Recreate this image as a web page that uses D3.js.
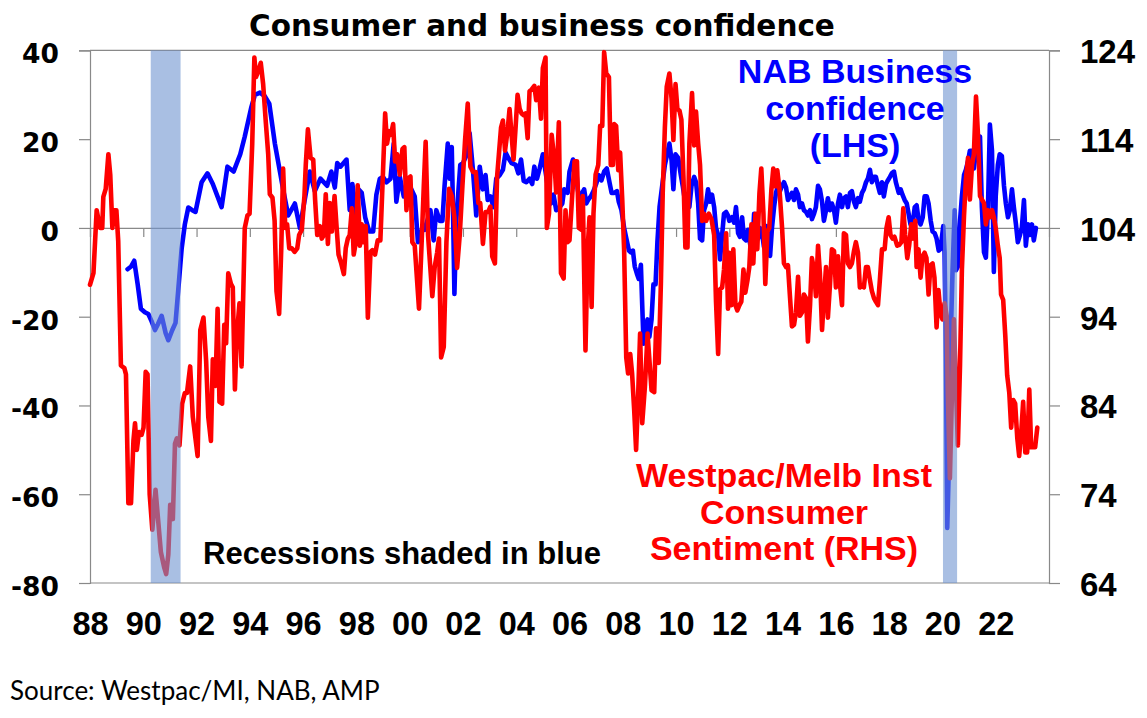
<!DOCTYPE html>
<html>
<head>
<meta charset="utf-8">
<script src="https://cdn.jsdelivr.net/npm/d3@7"></script>
<style>
  html, body { margin: 0; padding: 0; background: #ffffff; }
  svg { display: block; }
</style>
</head>
<body>
<svg id="chart" width="1147" height="718"></svg>
<script>
// ---------------- DATA ----------------
const titleText = "Consumer and business confidence";
const sourceText = "Source: Westpac/MI, NAB, AMP";

const xTickYears = [1988,1990,1992,1994,1996,1998,2000,2002,2004,2006,2008,2010,2012,2014,2016,2018,2020,2022];
const xTickLabels = ["88","90","92","94","96","98","00","02","04","06","08","10","12","14","16","18","20","22"];
const leftTicks = [40, 20, 0, -20, -40, -60, -80];
const rightTicks = [124, 114, 104, 94, 84, 74, 64];

const recessionStart = [1990.28, 2020.02];
const recessionEnd   = [1991.40, 2020.55];

// Westpac/Melbourne Institute consumer sentiment index (RHS)
const sentimentDates = [
1988.00,1988.13,1988.25,1988.38,1988.46,1988.50,1988.59,1988.69,1988.76,1988.84,1988.91,1988.99,
1989.06,1989.16,1989.29,1989.35,1989.44,1989.54,1989.63,1989.69,1989.76,1989.84,1989.94,
1990.01,1990.09,1990.16,1990.24,1990.34,1990.46,1990.56,1990.66,1990.79,1990.86,1990.94,
1991.01,1991.11,1991.19,1991.26,1991.36,1991.46,1991.56,1991.64,1991.76,1991.86,
1992.04,1992.14,1992.26,1992.36,1992.44,1992.54,1992.61,1992.71,1992.79,1992.86,1992.96,
1993.04,1993.11,1993.19,1993.29,1993.36,1993.44,1993.51,1993.61,1993.69,1993.81,1993.91,1993.99,
1994.09,1994.17,1994.23,1994.31,1994.41,1994.50,1994.60,1994.69,1994.75,1994.85,1994.93,
1995.00,1995.10,1995.18,1995.25,1995.33,1995.40,1995.48,1995.58,1995.68,1995.78,1995.85,1995.95,
1996.05,1996.10,1996.18,1996.28,1996.38,1996.45,1996.53,1996.63,1996.70,1996.78,1996.85,1996.93,
1997.00,1997.08,1997.18,1997.25,1997.33,1997.43,1997.53,1997.60,1997.68,1997.75,1997.83,1997.90,1997.98,
1998.05,1998.13,1998.20,1998.28,1998.35,1998.43,1998.53,1998.60,1998.70,1998.80,1998.90,
1999.00,1999.08,1999.15,1999.23,1999.30,1999.38,1999.45,1999.53,1999.63,1999.73,1999.80,1999.88,1999.95,
2000.03,2000.10,2000.19,2000.35,2000.44,2000.53,2000.60,2000.69,2000.78,2000.85,2000.94,
2001.03,2001.10,2001.18,2001.28,2001.38,2001.48,2001.58,2001.68,2001.78,2001.88,2001.98,
2002.08,2002.18,2002.28,2002.38,2002.48,2002.58,2002.65,2002.75,2002.85,2002.95,
2003.03,2003.10,2003.20,2003.28,2003.35,2003.43,2003.50,2003.58,2003.68,2003.75,2003.83,2003.90,2003.98,
2004.05,2004.13,2004.20,2004.28,2004.35,2004.43,2004.50,2004.58,2004.68,2004.75,2004.85,2004.93,
2005.00,2005.10,2005.15,2005.23,2005.33,2005.43,2005.50,2005.60,2005.68,2005.78,2005.85,2005.93,
2006.00,2006.10,2006.19,2006.28,2006.35,2006.44,2006.50,2006.60,2006.68,2006.75,2006.83,2006.90,2006.98,
2007.08,2007.15,2007.23,2007.30,2007.38,2007.48,2007.55,2007.63,2007.68,2007.75,2007.83,2007.90,2007.98,
2008.05,2008.13,2008.20,2008.28,2008.35,2008.43,2008.50,2008.58,2008.65,2008.73,2008.83,2008.93,
2009.00,2009.08,2009.18,2009.25,2009.35,2009.43,2009.50,2009.58,2009.65,2009.75,2009.83,2009.90,2009.98,
2010.05,2010.13,2010.20,2010.28,2010.35,2010.43,2010.50,2010.60,2010.68,2010.75,2010.83,2010.90,2010.98,
2011.05,2011.13,2011.23,2011.33,2011.43,2011.50,2011.58,2011.65,2011.73,2011.80,2011.88,2011.95,
2012.00,2012.08,2012.15,2012.23,2012.30,2012.38,2012.45,2012.53,2012.60,2012.68,2012.75,2012.83,2012.90,2012.98,
2013.05,2013.13,2013.20,2013.28,2013.35,2013.43,2013.50,2013.58,2013.65,2013.73,2013.80,2013.88,2013.98,
2014.05,2014.13,2014.20,2014.28,2014.35,2014.43,2014.50,2014.58,2014.65,2014.73,2014.80,2014.88,2014.95,
2015.03,2015.10,2015.18,2015.25,2015.33,2015.40,2015.48,2015.55,2015.63,2015.70,2015.78,2015.85,2015.93,
2016.00,2016.08,2016.15,2016.23,2016.30,2016.38,2016.45,2016.53,2016.60,2016.68,2016.75,2016.83,2016.90,2016.98,
2017.05,2017.13,2017.20,2017.28,2017.35,2017.43,2017.50,2017.58,2017.65,2017.73,2017.83,2017.90,2017.98,
2018.05,2018.13,2018.20,2018.30,2018.38,2018.46,2018.53,2018.60,2018.68,2018.75,2018.83,2018.90,2018.98,
2019.03,2019.10,2019.18,2019.25,2019.33,2019.40,2019.48,2019.55,2019.63,2019.70,2019.78,2019.85,2019.93,
2020.00,2020.08,2020.16,2020.20,2020.28,2020.36,2020.43,2020.51,2020.58,2020.66,2020.73,2020.81,2020.88,2020.96,
2021.03,2021.11,2021.18,2021.26,2021.33,2021.41,2021.48,2021.56,2021.63,2021.71,2021.78,2021.86,2021.93,
2022.00,2022.08,2022.15,2022.20,2022.28,2022.36,2022.43,2022.51,2022.58,2022.66,2022.73,2022.81,2022.88,2022.96,
2023.03,2023.11,2023.18,2023.26,2023.33,2023.41,2023.48,2023.56
];
const sentimentValues = [
97.6,98.9,106,104,104,107.5,108.4,112.3,110,104,106,106,
102.5,88.5,88.2,87.5,73,73,80,82,79,81,80.7,
81.5,87.8,87.5,74,70,74.5,71,67.5,65.7,65,67.2,
72.8,71.2,79.7,80.3,79.5,84.2,85.4,85.4,88.4,82.7,
78.3,92.5,93.9,89,82.7,80,89.2,86.2,94.9,84.4,84.2,
93.1,91,98.9,97.7,97.3,85.8,91.8,95.5,88.4,104,105.4,105.6,
113.5,123.2,121,121.6,122.6,120.2,115.9,112.3,107.8,107.4,104.8,
96.9,94.3,101.7,110.7,104,104.4,101.7,101.7,101.3,101.7,103.2,103.8,
107.6,111.1,115.1,111.9,111.7,107.2,103.2,104.2,102.8,103.2,107.8,102.2,
106.8,103.6,107.6,104.4,101,100,98.8,101.7,102.8,103.2,106.2,101,102.4,
108.8,102,104.4,102.4,104.2,93.9,101.3,101.5,101,102.6,102.6,
110.4,116.9,113.5,114.9,114.5,115.7,111.5,112.3,110,112.9,113.1,106,109.6,
109.8,102.4,102,94.9,101.6,108.7,113.7,103.2,99.3,96.3,99.6,
101.2,102.8,89.4,90.6,102.4,108.4,107.6,105.2,99.5,103.2,108.7,
113.9,118,110.9,110.3,110.3,106.8,106.8,102.2,105.8,105.8,
106.4,100.8,100,109.7,112.3,115.3,116.1,112.7,115.1,117.4,114.3,111.7,115.5,
119,117.4,116.9,116.7,116.9,114.1,119.4,119.6,120,118.4,119.8,116.3,
122,123.2,104,105.6,114.5,111.7,108,115.9,98.9,98.3,106,102.4,
102.6,107.6,111.5,111.5,104,103.8,107.6,90.2,101.6,105.2,95.1,105.6,110,
111.1,115.5,115.5,123.8,121.4,121,111.1,111.1,115.7,115.5,110.5,112.5,107.2,
101.6,89.4,87.6,89.8,87.6,83.4,79,85.4,92.1,82,86.1,92.1,
89.1,85.7,85.5,92.7,88.8,97.7,108,115.3,119.9,121.4,118.6,113.9,120.2,
117.4,117.2,116.2,109.5,101.8,101.8,113.5,119.2,113.3,117.1,113.5,111.1,104.8,
105.6,104.8,105.6,105,103.2,95.7,89.8,97.1,97.3,99.3,103.4,94.9,
101.2,95.3,101.6,95.3,94.7,95.3,95.7,99.3,96.7,98.1,99.6,104.4,100,105.6,
101.6,107.9,110.7,105.6,97.7,103.6,104,108.4,110.7,108.7,110.5,108.4,104,
100,99.6,99.8,96.1,92.9,93.1,94.5,98.5,94.1,94.5,96.5,96.1,91.2,
95.3,100.6,99.3,96.3,102,98.9,92.5,96.1,99.6,93.9,97.7,101.6,101.4,
97.3,100.8,97.7,95.3,103.4,103.2,100,99.6,100,101.4,102.4,101.2,97.3,97.5,
97.3,99.6,99.6,98.1,96.9,96.1,95.7,95.3,98.1,101.6,101.6,104,105.2,
103.2,102.8,103,102,102.1,102.4,106.2,103.2,100.6,102,104.4,102.8,104.8,
99.6,101.6,98.4,100.8,101.2,100.6,96.5,99.8,100,98.4,92.8,97,94.3,
93.7,95.5,94.1,85.8,75.8,85.8,93.7,85.8,79.5,88.6,99.3,105.4,109.5,111.9,
107.2,111.1,112.3,118.8,114.7,107.6,107.2,106.8,104.4,106,105.2,106,105.2,
104,102,100.6,96.5,95.9,91.8,87.4,85.4,81.5,84.6,84.2,80.3,78.3,81.1,
84.4,78.7,78.7,85.8,79.3,79.3,79.3,81.5
];

// NAB business confidence (LHS)
const nabDates = [
1989.41,1989.54,1989.66,1989.79,1989.91,1990.06,1990.19,1990.31,1990.44,1990.54,1990.69,1990.84,1990.94,
1991.09,1991.21,1991.31,1991.44,1991.56,1991.69,1991.84,1991.96,1992.19,1992.41,1992.61,1992.94,
1993.16,1993.39,1993.64,1993.81,1994.06,1994.19,1994.38,1994.56,1994.73,1994.94,
1995.13,1995.25,1995.44,1995.69,1995.88,1996.06,1996.25,1996.44,1996.65,1996.90,
1997.06,1997.19,1997.28,1997.40,1997.63,1997.75,1997.85,1997.98,
1998.08,1998.20,1998.33,1998.48,1998.63,1998.75,1998.88,
1999.00,1999.13,1999.28,1999.40,1999.50,1999.63,1999.78,1999.88,
2000.00,2000.19,2000.31,2000.48,2000.56,2000.78,2000.90,
2001.00,2001.13,2001.23,2001.31,2001.43,2001.50,2001.58,2001.63,2001.68,2001.75,2001.90,
2002.00,2002.15,2002.25,2002.38,2002.50,2002.63,2002.75,2002.85,2002.93,
2003.03,2003.15,2003.25,2003.38,2003.50,2003.60,2003.70,2003.83,2003.98,
2004.08,2004.18,2004.28,2004.38,2004.50,2004.60,2004.68,2004.78,2004.88,
2005.00,2005.10,2005.20,2005.30,2005.40,2005.50,2005.63,2005.73,2005.80,2005.93,
2006.00,2006.13,2006.23,2006.31,2006.40,2006.48,2006.55,2006.63,2006.70,2006.80,2006.90,
2007.00,2007.10,2007.20,2007.30,2007.40,2007.50,2007.58,2007.68,2007.78,2007.85,2007.95,
2008.05,2008.15,2008.23,2008.30,2008.38,2008.45,2008.53,2008.60,2008.68,2008.73,2008.78,2008.85,2008.93,
2009.00,2009.08,2009.15,2009.23,2009.30,2009.38,2009.48,2009.58,2009.68,2009.75,2009.83,2009.90,2009.98,
2010.08,2010.18,2010.25,2010.33,2010.40,2010.50,2010.58,2010.68,2010.75,2010.83,2010.90,2010.98,
2011.05,2011.13,2011.20,2011.28,2011.35,2011.43,2011.50,2011.58,2011.65,2011.73,2011.80,2011.88,2011.95,
2012.00,2012.10,2012.18,2012.25,2012.33,2012.40,2012.48,2012.55,2012.63,2012.70,2012.78,2012.85,2012.93,
2013.00,2013.08,2013.15,2013.23,2013.30,2013.38,2013.45,2013.53,2013.60,2013.68,2013.75,2013.83,2013.90,2013.98,
2014.05,2014.13,2014.20,2014.28,2014.35,2014.43,2014.50,2014.58,2014.65,2014.73,2014.80,2014.88,2014.95,
2015.03,2015.10,2015.18,2015.25,2015.33,2015.40,2015.48,2015.55,2015.63,2015.70,2015.78,2015.85,2015.93,
2016.00,2016.08,2016.15,2016.23,2016.30,2016.38,2016.45,2016.53,2016.60,2016.68,2016.75,2016.83,2016.90,2016.98,
2017.05,2017.13,2017.20,2017.28,2017.35,2017.43,2017.50,2017.58,2017.65,2017.73,2017.80,2017.88,2017.95,
2018.03,2018.10,2018.18,2018.25,2018.36,2018.43,2018.50,2018.58,2018.66,2018.73,2018.80,2018.88,2018.96,
2019.03,2019.11,2019.18,2019.26,2019.33,2019.41,2019.48,2019.56,2019.63,2019.71,2019.78,2019.86,2019.93,
2020.03,2020.08,2020.13,2020.18,2020.23,2020.30,2020.38,2020.46,2020.51,2020.58,2020.66,2020.73,2020.81,2020.88,2020.96,
2021.03,2021.11,2021.18,2021.26,2021.33,2021.41,2021.48,2021.56,2021.63,2021.71,2021.78,2021.86,2021.93,
2022.00,2022.08,2022.15,2022.23,2022.31,2022.38,2022.46,2022.53,2022.61,2022.68,2022.76,2022.83,2022.91,2022.98,
2023.06,2023.13,2023.21,2023.28,2023.36,2023.43,2023.51
];
const nabValues = [
-9.3,-8.7,-7.4,-12.7,-18.2,-19,-19.4,-21,-23,-21.8,-19.8,-23.7,-25.3,
-23,-21.4,-14.2,-4.7,0.8,4.6,4,3.6,10.3,12.3,9.9,4.7,
13.8,12.7,16.6,20.6,27.3,30,30.5,29.7,28,19,
12.7,8.7,2.8,5.5,0,6.3,12.7,8.3,11.1,9.5,
12.7,9.1,14.6,13.8,15.4,4,9.9,3.2,
8.7,7.9,2.4,-0.8,-0.8,7.5,11.1,
11.5,10.3,11.1,19,5.9,11.5,7.1,7.9,
9.5,7.1,-3.2,0,-0.4,4,-2.8,
4,1.6,1.6,9.5,19,11.1,18.2,3.2,-14.9,1.6,14.2,
14.6,16.6,21.4,12.7,2.8,13.8,8.7,11.9,6.3,
7.1,4.7,11.1,11.9,13.1,17,15.8,14.6,14.2,
12.3,15.4,10.6,10.3,11.1,9.9,13.8,11.1,13.4,
16.6,12.7,8.7,5.5,7.5,4,4.7,5.5,8.7,7.9,
12.7,15.4,14.6,8.7,5.5,7.9,8.7,5.5,6.3,7.1,8.3,
9.9,11.9,10.7,12.7,13.4,10.3,7.9,7.9,8.3,5.9,4,
0,-2.8,-5.1,-5.5,-5.1,-8.7,-10.3,-11.5,-8.3,-17.4,-26.1,-22.5,-20.6,
-24.5,-20.6,-12.7,-12.7,-3.2,4.7,9.5,14.2,17,19,15.4,8.7,16.6,
15.8,11.9,9.5,6.3,4.7,4.7,9.5,11.5,10.3,5.5,-2.4,-2.8,
4,5.5,8.7,5.9,7.5,4.7,0,-1.6,-7.1,-1.6,3.2,3.6,2.8,
1.6,2.4,1.2,4.7,-1.2,-2,2.4,-2.4,-2.8,-0.4,-3.6,-6.3,3.2,
0.4,-2.4,0,-1.2,-4.3,0.4,-2.4,-6.3,0,4.7,7.9,9.5,8.3,9.5,
10.3,9.1,6.3,7.1,7.9,6.3,8.7,7.5,4.7,5.5,4,3.6,2.8,
4,2,3.2,4.7,9.5,8.7,5.9,1.6,4,6.7,4,5.5,4,
1.2,5.5,7.5,4.7,6.7,7.1,4.7,7.9,8.3,5.9,4.7,6.7,5.9,7.9,
8.7,10.3,11.1,13.1,10.3,11.5,11.5,9.5,7.9,10.3,7.1,9.9,10.7,
11.5,12.3,12.7,10.3,7.9,8.7,7.5,6.3,5.5,3.2,0.8,0.8,4.7,
5.1,1.6,0.8,2.4,7.1,7.1,5.5,1.6,-0.8,-1.2,-2.4,-5.1,-4.7,
0.4,-5.5,-28.5,-67.6,-56.2,-27.1,-9.5,4,-9.5,-8.7,1.6,7.1,11.9,13.1,15,
17.4,17.4,13.4,17.4,15.8,20.6,4.7,-5.5,-6.7,4.7,23.3,17.4,-9.9,
7.1,14.2,16.6,16.2,9.5,5.5,2.4,4,8.7,4.7,0.8,-3.2,-1.6,0,
6.3,-4,0.8,-1.6,0.8,-2.8,0
];

// ---------------- CHART ----------------
const svg = d3.select("#chart");
const W = 1147, H = 718;
const plot = { left: 90, right: 1049, top: 50.4, bottom: 583 };
const gray = "#898989";
const boldArial = "'Liberation Sans', Arial, sans-serif";
const boldWide = "'DejaVu Sans', Verdana, sans-serif";

const x = d3.scaleLinear().domain([1988, 2024]).range([plot.left, plot.right]);
const yL = d3.scaleLinear().domain([-80, 40]).range([plot.bottom, plot.top]);
const yR = d3.scaleLinear().domain([64, 124]).range([plot.bottom, plot.top]);

svg.append("rect").attr("width", W).attr("height", H).attr("fill", "#fff");

// plot border (top / bottom)
svg.append("line").attr("x1", plot.left).attr("x2", plot.right)
  .attr("y1", yL(40)).attr("y2", yL(40)).attr("stroke", gray).attr("stroke-width", 1.2);
svg.append("line").attr("x1", plot.left).attr("x2", plot.right)
  .attr("y1", yL(-80)).attr("y2", yL(-80)).attr("stroke", gray).attr("stroke-width", 1.2);

// left axis (ASCII hyphen for negatives, as in the original)
const gLeft = svg.append("g").attr("transform", `translate(${plot.left},0)`)
  .call(d3.axisLeft(yL).tickValues(leftTicks).tickSize(11).tickPadding(20).tickFormat(d => String(d)));
gLeft.selectAll("path, line").attr("stroke", gray).attr("stroke-width", 1.2);
gLeft.selectAll("text").attr("font-family", boldWide).attr("font-weight", "bold")
  .attr("font-size", "26.5px").attr("fill", "#000").attr("dy", "12.5px");

// right axis
const gRight = svg.append("g").attr("transform", `translate(${plot.right},0)`)
  .call(d3.axisRight(yR).tickValues(rightTicks).tickSize(11).tickPadding(20).tickFormat(d => String(d)));
gRight.selectAll("path, line").attr("stroke", gray).attr("stroke-width", 1.2);
gRight.selectAll("text").attr("font-family", boldArial).attr("font-weight", "bold")
  .attr("font-size", "33px").attr("fill", "#000").attr("dy", "12.5px");

// x axis crossing at zero (ticks only)
const gX = svg.append("g").attr("transform", `translate(0,${yL(0)})`)
  .call(d3.axisBottom(x).tickValues(xTickYears).tickSize(9).tickFormat(""));
gX.selectAll("path, line").attr("stroke", gray).attr("stroke-width", 1.2);

// x labels at the bottom
const gXL = svg.append("g").attr("transform", `translate(0,${plot.bottom})`)
  .call(d3.axisBottom(x).tickValues(xTickYears).tickSize(0).tickPadding(29)
    .tickFormat((d, i) => xTickLabels[i]));
gXL.select("path").remove();
gXL.selectAll("text").attr("font-family", boldArial).attr("font-weight", "bold")
  .attr("font-size", "32.5px").attr("fill", "#000");

// series
const nabData = nabDates.map((d, i) => ({ t: d, v: nabValues[i] }));
const sentData = sentimentDates.map((d, i) => ({ t: d, v: sentimentValues[i] }));

svg.append("path").datum(nabData)
  .attr("fill", "none").attr("stroke", "#0000ff").attr("stroke-width", 4.6)
  .attr("stroke-linejoin", "round").attr("stroke-linecap", "round")
  .attr("d", d3.line().x(d => x(d.t)).y(d => yL(d.v)));

svg.append("path").datum(sentData)
  .attr("fill", "none").attr("stroke", "#ff0000").attr("stroke-width", 4.6)
  .attr("stroke-linejoin", "round").attr("stroke-linecap", "round")
  .attr("d", d3.line().x(d => x(d.t)).y(d => yR(d.v)));

// recession shading (drawn over the lines, semi-transparent)
svg.selectAll("rect.rec").data(recessionStart).enter().append("rect")
  .attr("class", "rec")
  .attr("x", (d) => x(d))
  .attr("width", (d, i) => x(recessionEnd[i]) - x(d))
  .attr("y", yL(40)).attr("height", yL(-80) - yL(40))
  .attr("fill", "rgb(112,148,208)").attr("fill-opacity", 0.6);

// title
svg.append("text").attr("x", 542).attr("y", 36).attr("text-anchor", "middle")
  .attr("font-family", boldWide).attr("font-weight", "bold").attr("font-size", "29.5px")
  .attr("fill", "#000").text(titleText);

// annotations
const nabLabel = ["NAB Business", "confidence", "(LHS)"];
svg.append("text").attr("text-anchor", "middle").attr("font-family", boldArial)
  .attr("font-weight", "bold").attr("font-size", "34px").attr("fill", "#0000ff")
  .selectAll("tspan").data(nabLabel).enter().append("tspan")
  .attr("x", 855).attr("y", (d, i) => 83 + i * 37).text(d => d);

const sentLabel = ["Westpac/Melb Inst", "Consumer", "Sentiment (RHS)"];
svg.append("text").attr("text-anchor", "middle").attr("font-family", boldArial)
  .attr("font-weight", "bold").attr("font-size", "34px").attr("fill", "#ff0000")
  .selectAll("tspan").data(sentLabel).enter().append("tspan")
  .attr("x", 784).attr("y", (d, i) => 487 + i * 36.5).text(d => d);

svg.append("text").attr("x", 203).attr("y", 564)
  .attr("font-family", boldArial).attr("font-weight", "bold").attr("font-size", "31px")
  .attr("fill", "#000").text("Recessions shaded in blue");

svg.append("text").attr("x", 10).attr("y", 700)
  .attr("font-family", "Lato, 'Open Sans', sans-serif").attr("font-size", "26px")
  .attr("fill", "#000").text(sourceText);
</script>
</body>
</html>
